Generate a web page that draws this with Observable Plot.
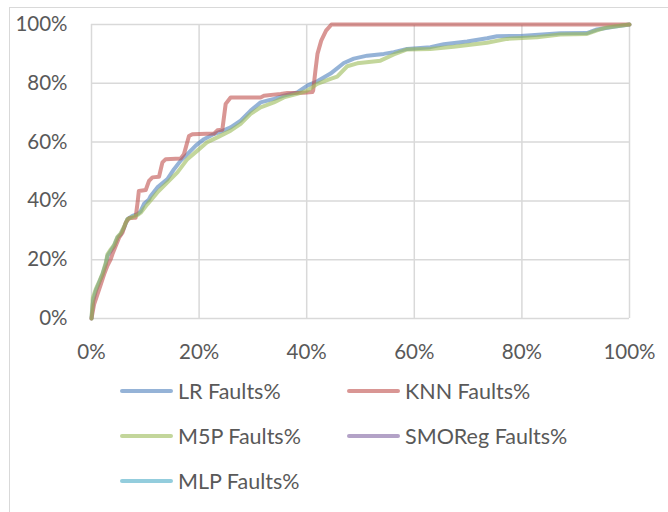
<!DOCTYPE html>
<html>
<head>
<meta charset="utf-8">
<script src="https://cdn.jsdelivr.net/npm/d3@7"></script>
<script src="https://cdn.jsdelivr.net/npm/@observablehq/plot@0.6"></script>
<style>
  html, body { margin: 0; padding: 0; background: #fff; }
  #wrap { position: relative; width: 668px; height: 512px; overflow: hidden; font-family: Lato, "Open Sans", sans-serif; }
  #frame { position: absolute; left: 9px; top: 7px; width: 700px; height: 600px; border-left: 1px solid #d9d9d9; border-top: 1px solid #d9d9d9; box-sizing: border-box; }
  #chart { position: absolute; left: 0; top: 0; }
  #legend { position: absolute; left: 0; top: 370px; width: 668px; height: 142px; }
  .item { position: absolute; display: flex; align-items: center; font-size: 21.5px; color: #595959; white-space: nowrap; }
  .item .sw { width: 53px; height: 3.5px; margin-right: 5px; border-radius: 2px; }
</style>
</head>
<body>
<div id="wrap">
  <div id="frame"></div>
  <div id="chart"></div>
  <div id="legend"></div>
</div>
<script>
// ---- Data (percent of LOC inspected vs percent of faults found) ----
const seriesNames = ["LR Faults%", "KNN Faults%", "M5P Faults%", "SMOReg Faults%", "MLP Faults%"];
const seriesColors = ["#4F81BD", "#C0504D", "#9BBB59", "#8064A2", "#4BACC6"];
const xTicks = [0, 20, 40, 60, 80, 100];
const yTicks = [0, 20, 40, 60, 80, 100];

const lrX = [0, 0.3, 0.8, 1.41, 2.04, 2.66, 2.97, 3.58, 4.2, 4.83, 5.44, 6.05, 6.68, 7.61, 8.54, 9.15, 9.77, 10.69, 11.01, 12.25, 14.11, 15.34, 16.58, 17.82, 19.37, 20.91, 22.47, 24.01, 25.86, 27.72, 29.58, 31.43, 33.9, 35.76, 38.25, 40.1, 41.96, 44.43, 46.9, 48.76, 51.24, 54.33, 56.18, 58.67, 63.0, 65.47, 69.81, 73.52, 75.38, 79.71, 87.14, 92.09, 93.95, 97.03, 100];
const lrY = [0, 6, 9.4, 12.2, 15, 18.5, 21.3, 23, 24.7, 27.5, 28.7, 30.9, 33.8, 34.9, 35.5, 36.5, 39, 40.5, 41.7, 44.6, 47.4, 50.8, 53.7, 55.9, 58.8, 61, 62.5, 63.6, 65, 67.3, 70.7, 73.5, 74.7, 75.8, 76.9, 79.2, 80.7, 83.3, 86.9, 88.4, 89.4, 90, 90.6, 91.7, 92.3, 93.3, 94.2, 95.3, 96, 96.1, 97, 97.1, 98.3, 99.2, 100];

const knnX = [0, 0.48, 1.11, 1.73, 2.34, 2.97, 3.58, 3.9, 4.51, 5.12, 5.76, 6.37, 6.98, 7.91, 8.2, 8.6, 8.8, 10.08, 10.69, 11.33, 12.55, 13.18, 13.8, 16.58, 17.19, 18.12, 18.75, 22.76, 23.39, 24.32, 24.94, 25.86, 31.43, 32.05, 35.15, 36.39, 39.47, 41.03, 41.2, 41.6, 42.0, 42.7, 43.6, 44.6, 100];
const knnY = [0, 4.8, 8.2, 11.6, 15, 18, 20.2, 21.9, 24.7, 27.5, 29.2, 32.6, 34.1, 34.3, 34.3, 40, 43.4, 43.7, 46.8, 48, 48.2, 53.1, 54.2, 54.4, 55.9, 62.1, 62.7, 62.9, 64, 64.2, 73, 75.2, 75.2, 75.8, 76.4, 76.7, 76.8, 77, 77.5, 84, 90, 94.5, 97.9, 100, 100];

const m5pX = [0, 0.25, 0.8, 1.41, 2.04, 2.66, 2.97, 3.58, 4.2, 4.83, 5.44, 6.05, 6.68, 7.61, 8.54, 9.15, 10.4, 12.25, 14.11, 15.97, 17.82, 19.68, 21.54, 23.39, 25.86, 27.72, 29.58, 31.43, 33.9, 35.76, 38.25, 40.1, 41.96, 44.43, 45.67, 47.53, 49.39, 53.71, 56.18, 58.67, 63.0, 67.32, 73.52, 77.24, 82.81, 87.14, 92.09, 93.95, 95.8, 100];
const m5pY = [0, 7, 10, 12.5, 15.2, 19, 21.8, 23.5, 25, 27.8, 29, 31.2, 33.8, 34.5, 35.2, 36, 38.9, 42.9, 46.3, 49.7, 54.2, 57.1, 60, 61.6, 63.9, 66.2, 69.6, 71.8, 73.5, 75.2, 76.4, 77.5, 79.8, 81.5, 82.3, 85.8, 86.8, 87.7, 89.8, 91.5, 91.7, 92.4, 93.8, 95.1, 95.7, 96.6, 96.8, 98.0, 99.0, 100];

// SMOReg and MLP lines are not visible in the chart (legend entries only)
const smoregX = [];
const smoregY = [];
const mlpX = [];
const mlpY = [];

// ---- Build table ----
const seriesXY = [[lrX, lrY], [knnX, knnY], [m5pX, m5pY], [smoregX, smoregY], [mlpX, mlpY]];
const data = [];
seriesXY.forEach(([xs, ys], i) => {
  xs.forEach((x, j) => data.push({series: seriesNames[i], x, y: ys[j]}));
});

const pct = d => d + "%";
const chart = Plot.plot({
  width: 668,
  height: 370,
  marginLeft: 91,
  marginRight: 39,
  marginTop: 24,
  marginBottom: 52,
  style: {fontFamily: "Lato, 'Open Sans', sans-serif", fontSize: "20.5px", color: "#595959", background: "transparent", overflow: "visible"},
  x: {domain: [0, 100]},
  y: {domain: [0, 100]},
  color: {domain: seriesNames, range: seriesColors},
  marks: [
    Plot.gridX(xTicks, {stroke: "#d9d9d9", strokeOpacity: 1, strokeWidth: 1.5}),
    Plot.gridY(yTicks, {stroke: "#d9d9d9", strokeOpacity: 1, strokeWidth: 1.5}),
    Plot.axisX(xTicks, {tickSize: 0, tickPadding: 26, tickFormat: pct, fill: "#595959", fontSize: 20.5, label: null}),
    Plot.axisY(yTicks, {tickSize: 0, tickPadding: 24, tickFormat: pct, fill: "#595959", fontSize: 20.5, label: null}),
    Plot.line(data, {x: "x", y: "y", z: "series", stroke: "series", strokeWidth: 4, strokeOpacity: 0.6, curve: "linear"})
  ]
});
document.getElementById("chart").appendChild(chart);

// ---- Legend ----
const legendPos = [[120, 21], [347, 21], [120, 66], [347, 66], [120, 111]];
const legend = document.getElementById("legend");
seriesNames.forEach((name, i) => {
  const it = document.createElement("div");
  it.className = "item";
  it.style.left = legendPos[i][0] + "px";
  it.style.top = (legendPos[i][1] - 14) + "px";
  it.style.height = "28px";
  const sw = document.createElement("span");
  sw.className = "sw";
  sw.style.background = seriesColors[i];
  sw.style.opacity = 0.6;
  const tx = document.createElement("span");
  tx.textContent = name;
  it.appendChild(sw);
  it.appendChild(tx);
  legend.appendChild(it);
});
</script>
</body>
</html>
